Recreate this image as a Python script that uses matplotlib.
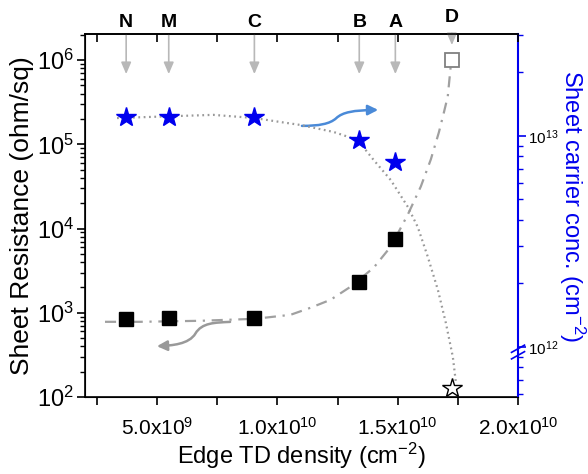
import matplotlib
matplotlib.use("Agg")
import matplotlib.pyplot as plt
from matplotlib.path import Path
from matplotlib.patches import FancyArrowPatch
import numpy as np

plt.rcParams['font.family'] = ['Liberation Sans', 'DejaVu Sans']
plt.rcParams['mathtext.fontset'] = 'custom'
plt.rcParams['mathtext.rm'] = 'Liberation Sans'
plt.rcParams['mathtext.it'] = 'Liberation Sans:italic'
plt.rcParams['mathtext.bf'] = 'Liberation Sans:bold'

# ---- data ----
samples = ['N', 'M', 'C', 'B', 'A', 'D']
td_density = [3.71e9, 5.48e9, 9.04e9, 13.4e9, 14.9e9, 17.25e9]
sheet_res = [849, 871, 871, 2340, 7600, 1.0e6]          # squares, left axis
carrier_conc = [1.23e13, 1.23e13, 1.23e13, 9.57e12, 7.54e12, 6.4e11]  # stars, right axis

# fit curve (resistance, dash-dot)
res_fit_x = [2.83e9, 4.29e9, 6.79e9, 9.08e9, 10.54e9, 11.375e9, 12.21e9, 13.04e9,
             14.0e9, 14.71e9, 15.42e9, 15.96e9, 16.375e9, 16.71e9, 16.92e9, 17.08e9, 17.21e9]
res_fit_y = [10**2.893, 10**2.893, 10**2.905, 10**2.929, 10**2.976, 10**3.060, 10**3.155,
             10**3.310, 10**3.536, 10**3.786, 10**4.167, 10**4.500, 10**4.821, 10**5.143,
             10**5.381, 10**5.571, 10**5.952]
# fit curve (carrier conc., dotted)
conc_fit_x = [3.33e9, 7.33e9, 9.04e9, 10.125e9, 10.96e9, 12.33e9, 13.33e9, 14.0e9,
              14.71e9, 15.42e9, 15.83e9, 16.25e9, 16.67e9, 17.0e9, 17.29e9, 17.42e9]
conc_fit_y = [10**13.085, 10**13.100, 10**13.085, 10**13.066, 10**13.052, 10**13.019,
              10**12.981, 10**12.886, 10**12.791, 10**12.664, 10**12.569, 10**12.427,
              10**12.270, 10**12.114, 10**11.953, 10**11.829]

x_ticks = [5e9, 1e10, 1.5e10, 2e10]
x_ticklabels = ['5.0x10$^{9}$', '1.0x10$^{10}$', '1.5x10$^{10}$', '2.0x10$^{10}$']
left_ticks = [1e2, 1e3, 1e4, 1e5, 1e6]
left_ticklabels = ['10$^{2}$', '10$^{3}$', '10$^{4}$', '10$^{5}$', '10$^{6}$']
right_ticks = [1e12, 1e13]
right_ticklabels = ['10$^{12}$', '10$^{13}$']

BLUE = '#0000ee'
GRAY = '#a0a0a0'

fig = plt.figure(figsize=(5.88, 4.74), dpi=100)
ax = fig.add_axes([0.1446, 0.1624, 0.7364, 0.7658])
ax.set_yscale('log')
ax.set_xlim(2e9, 2e10)
ax.set_ylim(1e2, 10**6.31)

ax2 = ax.twinx()
ax2.set_yscale('log')
ax2.set_ylim(10**11.763, 10**13.483)

ax3 = ax.twiny()
ax3.set_xlim(ax.get_xlim())
ax3.set_xticks(x_ticks)
ax3.xaxis.set_minor_locator(matplotlib.ticker.MultipleLocator(2.5e9))
ax3.tick_params(axis='x', which='both', direction='in', length=6, width=1.2, labeltop=False)
for s in ['left', 'right', 'bottom']:
    ax3.spines[s].set_visible(False)
ax3.spines['top'].set_linewidth(1.2)

# curves
ax.plot(res_fit_x, res_fit_y, color=GRAY, lw=1.6, ls=(0, (5, 3, 1, 3)), zorder=2)
ax2.plot(conc_fit_x, conc_fit_y, color='#999999', lw=1.6, ls=(0, (0.8, 1.6)), zorder=2)

# squares
ax.plot(td_density[:5], sheet_res[:5], 's', color='black', ms=10, zorder=3)
ax.plot(td_density[5:], sheet_res[5:], 's', mfc='white', mec='#808080', mew=1.3, ms=9.5, zorder=3)
# stars
ax2.plot(td_density[:5], carrier_conc[:5], '*', color=BLUE, ms=15, zorder=3)
ax2.plot(td_density[5:], carrier_conc[5:], '*', mfc='white', mec='black', mew=1.0, ms=15, zorder=3)

# ticks / labels
ax.set_xticks(x_ticks)
ax.set_xticklabels(x_ticklabels, fontsize=15)
ax.xaxis.set_minor_locator(matplotlib.ticker.MultipleLocator(2.5e9))
ax.tick_params(axis='x', which='both', direction='out', length=6, width=1.2, pad=8)
ax.set_yticks(left_ticks)
ax.set_yticklabels(left_ticklabels, fontsize=17)
ax.tick_params(axis='y', which='major', direction='out', length=6, width=1.2, pad=2)
ax.tick_params(axis='y', which='minor', direction='out', length=3.5, width=1.0)
ax.yaxis.set_minor_locator(matplotlib.ticker.LogLocator(base=10, subs=np.arange(2, 10), numticks=20))
ax.yaxis.set_minor_formatter(matplotlib.ticker.NullFormatter())

ax2.set_yticks(right_ticks)
ax2.set_yticklabels(right_ticklabels, fontsize=11)
ax2.yaxis.set_minor_locator(matplotlib.ticker.LogLocator(base=10, subs=np.arange(2, 10), numticks=20))
ax2.yaxis.set_minor_formatter(matplotlib.ticker.NullFormatter())
ax2.tick_params(axis='y', which='major', direction='out', length=6, width=1.2, color=BLUE, pad=1.5)
ax2.tick_params(axis='y', which='minor', direction='out', length=3.5, width=1.0, color=BLUE)
ax2.spines['right'].set_color(BLUE)
ax2.spines['right'].set_linewidth(1.5)
for s in ['left', 'bottom', 'top']:
    ax.spines[s].set_linewidth(1.2)
ax.spines['right'].set_visible(False)
ax2.spines['top'].set_visible(False)

ax.set_xlabel('Edge TD density (cm$^{-2}$)', fontsize=17, labelpad=2)
ax.set_ylabel('Sheet Resistance (ohm/sq)', fontsize=19, labelpad=2)
ax2.set_ylabel('Sheet carrier conc. (cm$^{-2}$)', fontsize=17, color=BLUE,
               rotation=270, va='center', ha='center')
ax2.yaxis.set_label_coords(1.126, 0.525)

# sample labels and arrows
trans = ax.get_xaxis_transform()
for i, name in enumerate(samples):
    xv = td_density[i]
    if name == 'D':
        ax.text(xv, 1.045, name, transform=trans, ha='center', va='center',
                fontsize=14, fontweight='bold', clip_on=False, zorder=5)
        ax.annotate('', xy=(xv, 0.962), xytext=(xv, 1.01), xycoords=trans, textcoords=trans,
                    arrowprops=dict(arrowstyle='-|>,head_length=0.7,head_width=0.3',
                                    color='#b8b8b8', lw=1.2), annotation_clip=False)
    else:
        ax.text(xv, 1.033, name, transform=trans, ha='center', va='center',
                fontsize=14, fontweight='bold', clip_on=False, zorder=5)
        ax.annotate('', xy=(xv, 0.882), xytext=(xv, 1.005), xycoords=trans, textcoords=trans,
                    arrowprops=dict(arrowstyle='-|>,head_length=0.7,head_width=0.3',
                                    color='#b8b8b8', lw=1.2), annotation_clip=False)

# curved arrows
blue_path = Path([(0.501, 0.747), (0.54, 0.747), (0.565, 0.752), (0.58, 0.768),
                  (0.595, 0.785), (0.62, 0.79), (0.677, 0.791)],
                 [Path.MOVETO, Path.CURVE4, Path.CURVE4, Path.CURVE4,
                  Path.CURVE4, Path.CURVE4, Path.CURVE4])
ax.add_patch(FancyArrowPatch(path=blue_path, transform=ax.transAxes,
                             arrowstyle='-|>,head_length=6,head_width=3',
                             color='#4a8ad8', lw=1.8, mutation_scale=1))
gray_path = Path([(0.335, 0.207), (0.30, 0.205), (0.27, 0.205), (0.255, 0.175),
                  (0.24, 0.145), (0.20, 0.142), (0.166, 0.140)],
                 [Path.MOVETO, Path.CURVE4, Path.CURVE4, Path.CURVE4,
                  Path.CURVE4, Path.CURVE4, Path.CURVE4])
ax.add_patch(FancyArrowPatch(path=gray_path, transform=ax.transAxes,
                             arrowstyle='-|>,head_length=6,head_width=3',
                             color='#999999', lw=1.8, mutation_scale=1))

# axis break marks on right axis
for dy in (0.0, 0.018):
    ax2.plot([0.985, 1.015], [0.105 + dy, 0.125 + dy], transform=ax2.transAxes,
             color=BLUE, lw=1.2, clip_on=False)

fig.savefig('out.png', dpi=100)
